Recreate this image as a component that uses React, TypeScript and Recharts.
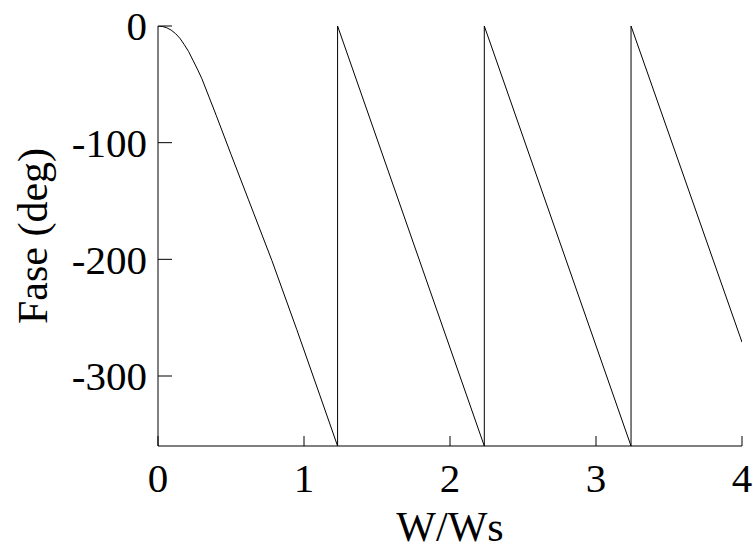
import { Line, LineChart, XAxis, YAxis } from "recharts";

// W/Ws values; repeated x = the vertical wrap from -360 to 0
const freqRatio = [
  0, 0.03, 0.06, 0.09, 0.12, 0.15, 0.18, 0.21, 0.24, 0.27, 0.3, 0.35, 0.4,
  0.5, 0.62, 0.78, 0.95, 1.11, 1.23,
  1.23, 2.235, 2.235, 3.24, 3.24, 4,
];
const phaseDeg = [
  0, -0.4, -1.5, -3.5, -6.5, -10.5, -16, -22, -29.5, -37, -45, -61, -77,
  -110, -149, -201, -260, -317, -360,
  0, -360, 0, -360, 0, -271,
];

const xTicks = [0, 1, 2, 3, 4];
const yTicks = [-300, -200, -100, 0];

const data = freqRatio.map((w, i) => ({ w, phase: phaseDeg[i] }));

const FONT = "'Liberation Serif', 'Times New Roman', serif";

const BottomTick = ({ x, y, payload }: any) => (
  <g>
    <line x1={x} y1={y} x2={x} y2={y - 10} stroke="#000" />
    <text x={x} y={y + 46} textAnchor="middle" fontSize={41} fontFamily={FONT} fill="#000">
      {payload.value}
    </text>
  </g>
);

const TopTick = ({ x, y }: any) => <line x1={x} y1={y} x2={x} y2={y + 10} stroke="#000" />;

const LeftTick = ({ x, y, payload }: any) => (
  <g>
    <line x1={x} y1={y} x2={x + 14} y2={y} stroke="#000" />
    <text x={x - 11} y={y} dy="0.35em" textAnchor="end" fontSize={41} fontFamily={FONT} fill="#000">
      {payload.value}
    </text>
  </g>
);

const RightTick = ({ x, y }: any) => <line x1={x} y1={y} x2={x - 14} y2={y} stroke="#000" />;

const YTitle = ({ viewBox }: any) => {
  const cx = 47;
  const cy = viewBox.y + viewBox.height / 2;
  return (
    <text
      x={cx}
      y={cy}
      transform={`rotate(-90, ${cx}, ${cy})`}
      textAnchor="middle"
      fontSize={42}
      fontFamily={FONT}
      fill="#000"
    >
      Fase (deg)
    </text>
  );
};

const XTitle = ({ viewBox }: any) => (
  <text
    x={viewBox.x + viewBox.width / 2}
    y={541}
    textAnchor="middle"
    fontSize={42}
    fontFamily={FONT}
    fill="#000"
  >
    W/Ws
  </text>
);

export default function App() {
  return (
    <div style={{ position: "absolute", left: 0, top: 0, background: "#fff" }}>
      <LineChart width={753} height={555} data={data} margin={{ top: 26, right: 11, bottom: 0, left: 0 }}>
        <XAxis
          dataKey="w"
          type="number"
          domain={[0, 4]}
          ticks={xTicks}
          height={109}
          tickSize={0}
          tickMargin={0}
          tickLine={false}
          axisLine={{ stroke: "#000" }}
          tick={<BottomTick />}
          label={{ value: "W/Ws", content: XTitle }}
          allowDataOverflow
        />
        <XAxis
          xAxisId="top"
          orientation="top"
          dataKey="w"
          type="number"
          domain={[0, 4]}
          ticks={xTicks}
          height={0}
          tickSize={0}
          tickMargin={0}
          tickLine={false}
          axisLine={{ stroke: "#000" }}
          tick={<TopTick />}
          allowDataOverflow
        />
        <YAxis
          type="number"
          domain={[-360, 0]}
          ticks={yTicks}
          width={158}
          tickSize={0}
          tickMargin={0}
          tickLine={false}
          axisLine={{ stroke: "#000" }}
          tick={<LeftTick />}
          label={{ value: "Fase (deg)", content: YTitle }}
          allowDataOverflow
        />
        <YAxis
          yAxisId="right"
          orientation="right"
          type="number"
          domain={[-360, 0]}
          ticks={yTicks}
          width={0}
          tickSize={0}
          tickMargin={0}
          tickLine={false}
          axisLine={{ stroke: "#000" }}
          tick={<RightTick />}
          allowDataOverflow
        />
        <Line
          type="linear"
          dataKey="phase"
          stroke="#000"
          strokeWidth={1}
          dot={false}
          isAnimationActive={false}
        />
      </LineChart>
    </div>
  );
}
